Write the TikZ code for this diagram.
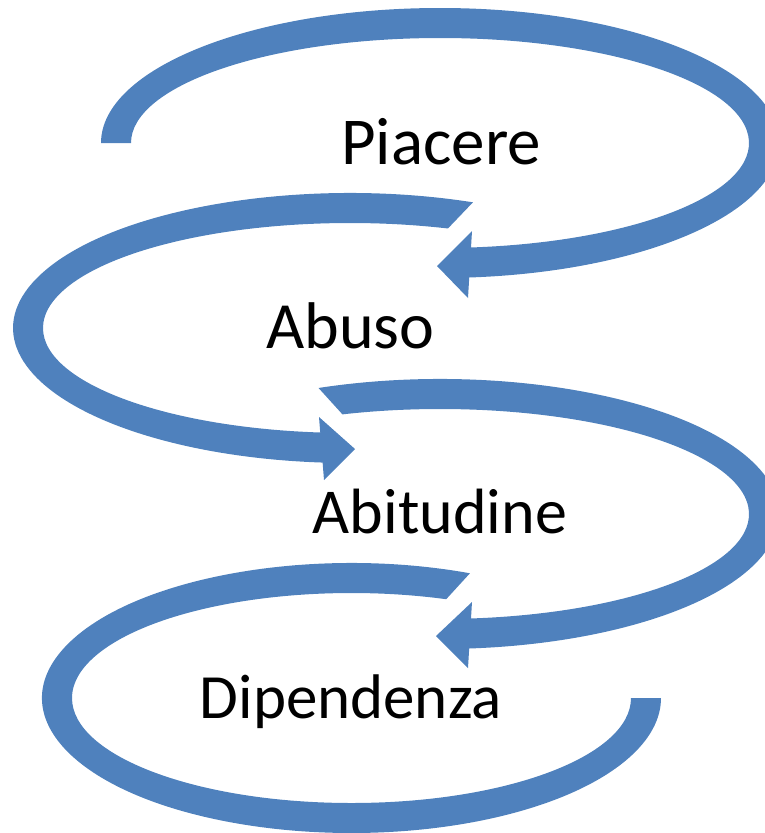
\documentclass[tikz,border=0pt]{standalone}
\usepackage{fontspec}
\setmainfont{Carlito}
\usepackage{tikz}
\usetikzlibrary{calc}
\definecolor{arcblue}{HTML}{4F81BD}

\begin{document}
\begin{tikzpicture}[x=1pt,y=-1pt,
  band/.style={fill=arcblue},
  lbl/.style={font=\fontsize{#1}{#1}\selectfont,anchor=base,inner sep=0pt}]
\useasboundingbox (0,0) rectangle (764,833);
\coordinate (c1) at (440,143);
\coordinate (c2) at (350,328);
\coordinate (c3) at (440,514);
\coordinate (c4) at (351.5,698);
% first loop, round Piacere
\fill[band] ($(c1)+(180:339 and 135)$) arc[start angle=180,end angle=446,x radius=339,y radius=135]
  -- ($(c1)+(446:309 and 105)$) arc[start angle=446,end angle=180,x radius=309,y radius=105] -- cycle;
\fill[band] (472,231) -- (437,266) -- (468,298) -- cycle;
% second loop, round Abuso
\fill[band] ($(c2)+(291.4:337 and 135)$) arc[start angle=291.4,end angle=93,x radius=337,y radius=135]
  -- ($(c2)+(93:307 and 105)$) arc[start angle=93,end angle=288.6,x radius=307,y radius=105] -- cycle;
\fill[band] (319,417) -- (355,449) -- (324,480) -- cycle;
% third loop, round Abitudine
\fill[band] ($(c3)+(249:339 and 135)$) arc[start angle=249,end angle=446,x radius=339,y radius=135]
  -- ($(c3)+(446:309 and 105)$) arc[start angle=446,end angle=251.6,x radius=309,y radius=105] -- cycle;
\fill[band] (472,602) -- (436,636) -- (468,668) -- cycle;
% last loop, round Dipendenza
\fill[band] ($(c4)+(292.5:309.5 and 135)$) arc[start angle=292.5,end angle=0,x radius=309.5,y radius=135]
  -- ($(c4)+(0:279.5 and 105)$) arc[start angle=0,end angle=289.8,x radius=279.5,y radius=105] -- cycle;
% words
\node[lbl=67] (piacere) at (441,164) {Piacere};
\node[lbl=66] (abuso) at (350.5,348) {Abuso};
\node[lbl=64] (abitudine) at (440,533) {Abitudine};
\node[lbl=63] (dipendenza) at (351,718) {Dipendenza};
\end{tikzpicture}
\end{document}
